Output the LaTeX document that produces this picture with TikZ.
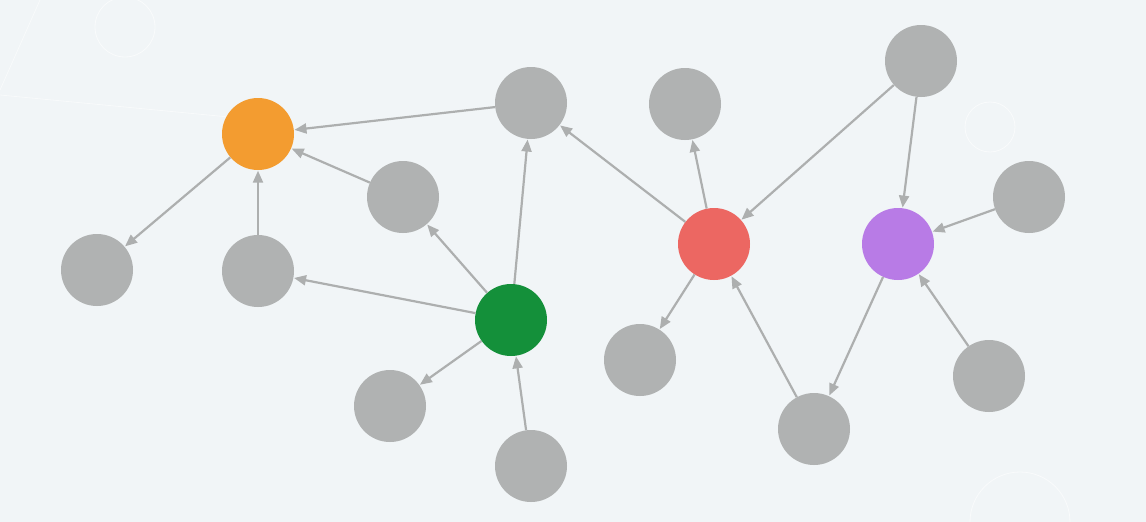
\documentclass[tikz,border=0pt]{standalone}
\usetikzlibrary{arrows.meta}
\definecolor{bgc}{HTML}{F1F5F7}
\definecolor{nodegray}{HTML}{B0B2B2}
\definecolor{edgegray}{HTML}{ADAFAF}
\definecolor{orangec}{HTML}{F39C30}
\definecolor{greenc}{HTML}{14903A}
\definecolor{redc}{HTML}{EC6762}
\definecolor{purplec}{HTML}{B87BE6}
\begin{document}
\begin{tikzpicture}[x=1pt,y=-1pt,
  dot/.style={circle,minimum size=72pt,inner sep=0pt,fill=nodegray},
  link/.style={draw=edgegray,line width=2.2pt,-{Triangle[length=12pt,width=10pt]},shorten >=0.5pt}]
\fill[bgc] (0,0) rectangle (1146,522);
\useasboundingbox (0,0) rectangle (1146,522);
\draw[white,line width=0.8pt,opacity=0.6] (125,27) circle (30);
\draw[white,line width=0.8pt,opacity=0.6] (990,127) circle (25);
\draw[white,line width=0.8pt,opacity=0.6] (1020,522) circle (50);
\draw[white,line width=0.8pt,opacity=0.5] (0,95) -- (260,120);
\draw[white,line width=0.8pt,opacity=0.5] (40,0) -- (0,90);
% nodes
\node[dot,fill=orangec] (O) at (258,134) {};
\node[dot] (A) at (531,103) {};
\node[dot] (B) at (97,270) {};
\node[dot] (C) at (258,271) {};
\node[dot] (D) at (403,197) {};
\node[dot,fill=greenc] (Gr) at (511,320) {};
\node[dot] (E) at (390,406) {};
\node[dot] (F) at (531,466) {};
\node[dot] (G) at (685,104) {};
\node[dot,fill=redc] (R) at (714,244) {};
\node[dot] (H) at (640,360) {};
\node[dot] (I) at (814,429) {};
\node[dot] (J) at (921,61) {};
\node[dot,fill=purplec] (P) at (898,244) {};
\node[dot] (K) at (1029,197) {};
\node[dot] (L) at (989,376) {};
% edges
\draw[link] (A) -- (O);
\draw[link] (D) -- (O);
\draw[link] (C) -- (O);
\draw[link] (O) -- (B);
\draw[link] (Gr) -- (C);
\draw[link] (Gr) -- (D);
\draw[link] (Gr) -- (A);
\draw[link] (Gr) -- (E);
\draw[link] (F) -- (Gr);
\draw[link] (R) -- (A);
\draw[link] (R) -- (G);
\draw[link] (R) -- (H);
\draw[link] (J) -- (R);
\draw[link] (J) -- (P);
\draw[link] (I) -- (R);
\draw[link] (P) -- (I);
\draw[link] (K) -- (P);
\draw[link] (L) -- (P);
\end{tikzpicture}
\end{document}
